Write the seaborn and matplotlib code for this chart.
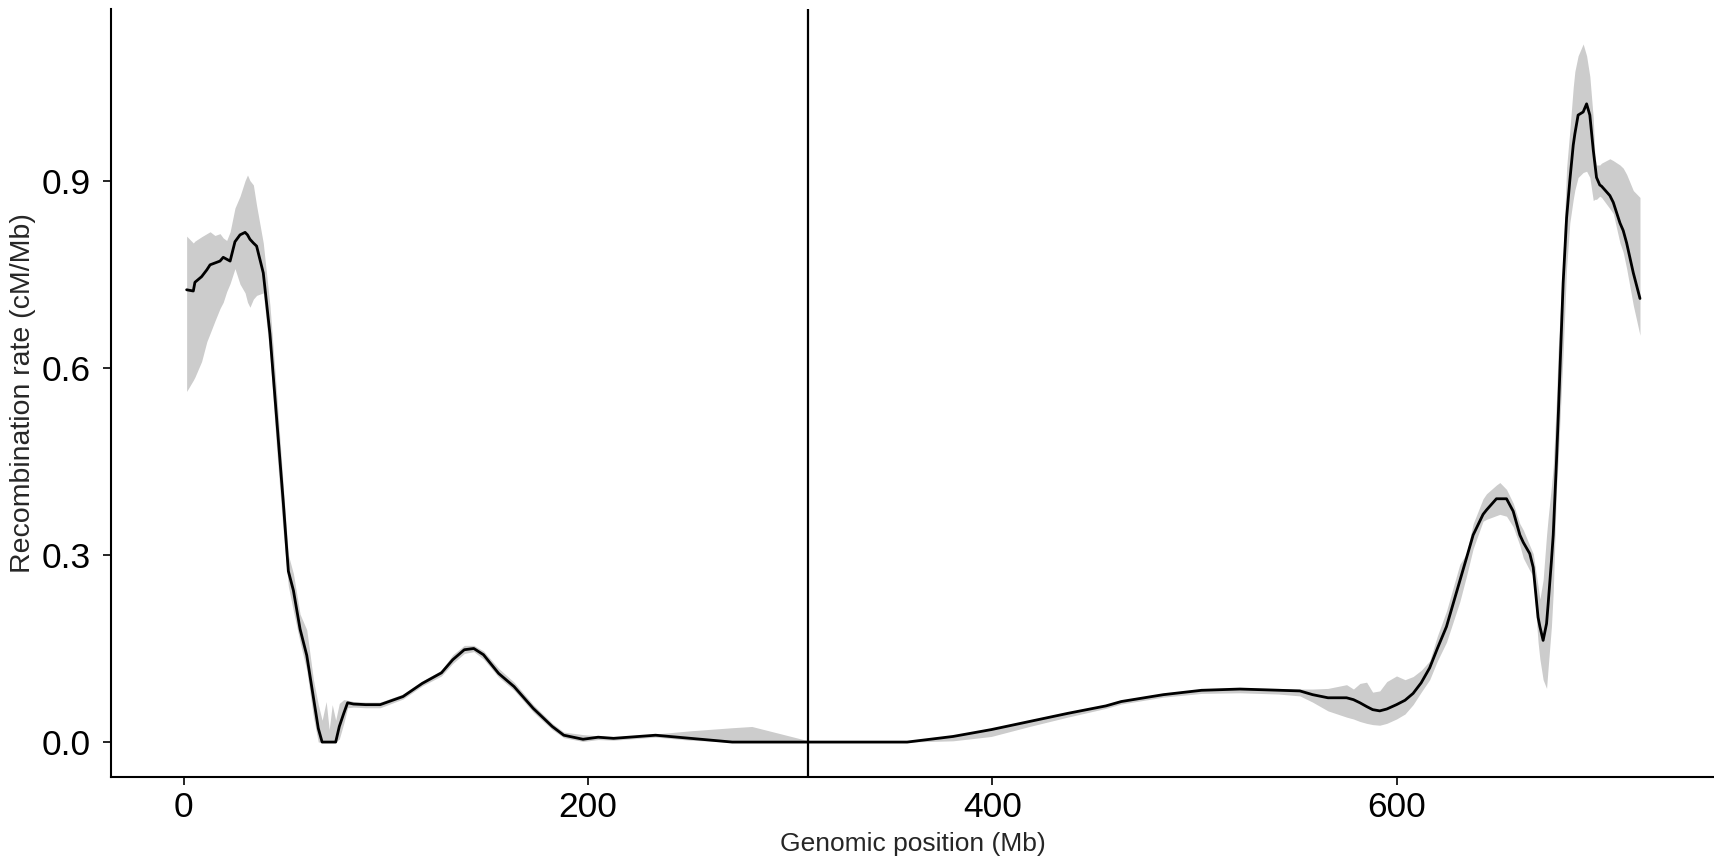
import numpy as np
import pandas as pd
import seaborn as sns
import matplotlib
matplotlib.use('Agg')
import matplotlib.pyplot as plt

# genomic position (Mb), smoothed rate and its band (cM/Mb)
pos = [1.5, 4.8, 5.6, 8.9, 11.5, 13.1, 15.5, 18.0, 19.6, 21.3, 23.0, 25.4, 27.9, 30.4, 31.6,
       32.8, 34.5, 36.1, 39.4, 42.7, 46.0, 49.3, 51.8, 54.3, 57.6, 60.9, 64.2, 66.6, 68.5,
       70.5, 72.0, 73.5, 75.2, 77.0, 79.2, 81.1, 84.0, 90.0, 97.2, 108.5, 118.0, 127.5,
       133.1, 138.8, 143.5, 148.3, 155.8, 163.4, 172.9, 182.3, 188.0, 197.5, 205.0, 212.6,
       233.4, 250.4, 271.3, 281.0, 309.0, 330.0, 357.8, 380.5, 399.4, 418.3, 437.2, 456.1,
       463.7, 484.5, 503.4, 522.4, 541.3, 552.0, 558.3, 565.9, 575.1, 578.5, 581.7, 585.0,
       588.0, 591.5, 595.0, 599.8, 604.0, 608.0, 612.0, 616.2, 620.0, 624.5, 631.1, 634.4,
       637.7, 642.6, 644.3, 649.2, 650.9, 654.2, 657.5, 660.8, 662.5, 665.7, 667.4, 669.8,
       670.7, 672.3, 674.0, 674.8, 676.4, 677.3, 678.9, 679.7, 682.2, 683.9, 685.5, 687.2,
       688.0, 689.6, 692.1, 693.8, 695.4, 697.1, 697.9, 698.7, 700.3, 701.2, 705.3, 707.0,
       710.3, 711.9, 713.6, 716.9, 720.2]
rate = [0.725, 0.723, 0.737, 0.746, 0.757, 0.765, 0.768, 0.771, 0.777, 0.774, 0.771, 0.802,
        0.813, 0.817, 0.813, 0.806, 0.800, 0.795, 0.752, 0.654, 0.520, 0.384, 0.274, 0.243,
        0.181, 0.139, 0.071, 0.022, 0.0, 0.0, 0.0, 0.0, 0.0, 0.025, 0.046, 0.063, 0.061,
        0.060, 0.060, 0.073, 0.094, 0.111, 0.132, 0.148, 0.150, 0.140, 0.110, 0.089, 0.054,
        0.025, 0.011, 0.0045, 0.0078, 0.006, 0.011, 0.006, 0.0, 0.0, 0.0, 0.0, 0.0, 0.009,
        0.020, 0.033, 0.046, 0.058, 0.065, 0.076, 0.083, 0.085, 0.083, 0.082, 0.076, 0.071,
        0.071, 0.068, 0.063, 0.057, 0.052, 0.050, 0.053, 0.060, 0.067, 0.078, 0.095, 0.119,
        0.150, 0.185, 0.258, 0.295, 0.332, 0.365, 0.372, 0.390, 0.390, 0.390, 0.370, 0.332,
        0.320, 0.302, 0.280, 0.200, 0.185, 0.163, 0.190, 0.222, 0.290, 0.332, 0.450, 0.515,
        0.736, 0.840, 0.900, 0.957, 0.975, 1.005, 1.010, 1.023, 1.005, 0.949, 0.927, 0.905,
        0.893, 0.891, 0.876, 0.865, 0.832, 0.820, 0.800, 0.752, 0.711]
lower = [0.562, 0.580, 0.585, 0.610, 0.642, 0.655, 0.675, 0.695, 0.705, 0.722, 0.735, 0.759,
         0.734, 0.720, 0.705, 0.697, 0.710, 0.716, 0.720, 0.620, 0.470, 0.335, 0.250, 0.210,
         0.160, 0.115, 0.040, 0.0, 0.0, 0.0, 0.0, 0.0, 0.0, 0.005, 0.030, 0.055, 0.056,
         0.055, 0.055, 0.069, 0.090, 0.106, 0.126, 0.142, 0.145, 0.133, 0.104, 0.083, 0.048,
         0.020, 0.007, 0.001, 0.004, 0.003, 0.008, 0.003, 0.0, 0.0, 0.0, 0.0, 0.0, 0.002,
         0.009, 0.025, 0.040, 0.054, 0.061, 0.072, 0.078, 0.079, 0.077, 0.074, 0.064, 0.050,
         0.040, 0.037, 0.033, 0.030, 0.028, 0.027, 0.030, 0.037, 0.045, 0.060, 0.080, 0.100,
         0.130, 0.160, 0.225, 0.266, 0.310, 0.354, 0.357, 0.363, 0.365, 0.362, 0.345, 0.315,
         0.295, 0.275, 0.266, 0.160, 0.133, 0.100, 0.086, 0.120, 0.185, 0.240, 0.405, 0.450,
         0.625, 0.760, 0.832, 0.870, 0.885, 0.905, 0.913, 0.915, 0.905, 0.868, 0.870, 0.870,
         0.875, 0.873, 0.855, 0.847, 0.800, 0.785, 0.759, 0.700, 0.652]
upper = [0.811, 0.800, 0.803, 0.810, 0.815, 0.818, 0.812, 0.815, 0.808, 0.804, 0.818, 0.856,
         0.875, 0.900, 0.909, 0.900, 0.893, 0.860, 0.800, 0.700, 0.560, 0.410, 0.300, 0.270,
         0.205, 0.180, 0.100, 0.060, 0.035, 0.065, 0.020, 0.060, 0.035, 0.062, 0.068, 0.067,
         0.065, 0.064, 0.064, 0.077, 0.098, 0.115, 0.140, 0.155, 0.155, 0.146, 0.118, 0.096,
         0.060, 0.030, 0.016, 0.012, 0.010, 0.008, 0.013, 0.018, 0.023, 0.025, 0.002, 0.001,
         0.001, 0.011, 0.022, 0.035, 0.048, 0.060, 0.067, 0.078, 0.085, 0.087, 0.086, 0.085,
         0.085, 0.086, 0.092, 0.085, 0.094, 0.096, 0.080, 0.082, 0.097, 0.106, 0.100, 0.105,
         0.115, 0.130, 0.170, 0.210, 0.285, 0.302, 0.350, 0.390, 0.398, 0.412, 0.416, 0.405,
         0.383, 0.350, 0.340, 0.315, 0.302, 0.250, 0.229, 0.260, 0.332, 0.360, 0.410, 0.441,
         0.550, 0.625, 0.780, 0.920, 0.980, 1.050, 1.075, 1.100, 1.119, 1.100, 1.067, 1.000,
         0.940, 0.925, 0.925, 0.928, 0.935, 0.932, 0.925, 0.920, 0.910, 0.884, 0.873]
centromere = 309

df = pd.DataFrame({'pos': pos, 'rate': rate, 'lower': lower, 'upper': upper})

sns.set_style('ticks')
plt.rcParams['font.family'] = ['Liberation Sans', 'DejaVu Sans']

fig = plt.figure(figsize=(17.14, 8.6), dpi=100)
ax = fig.add_axes([0.065, 0.0965, 0.935, 0.893])

ax.fill_between(df['pos'], df['lower'], df['upper'], color='#cccccc', linewidth=0)
sns.lineplot(data=df, x='pos', y='rate', color='black', linewidth=2.0, ax=ax)
ax.axvline(centromere, color='black', linewidth=1.6)

ax.set_xlim(-35.7, 756.8)
ax.set_ylim(-0.056, 1.175)
ax.set_xticks([0, 200, 400, 600])
ax.set_yticks([0.0, 0.3, 0.6, 0.9])
ax.set_yticklabels(['0.0', '0.3', '0.6', '0.9'])
ax.tick_params(labelsize=25.5, width=1.2, length=6, color='black', labelcolor='black')
ax.tick_params(axis='y', pad=9)
ax.tick_params(axis='x', pad=4)
ax.set_xlabel('Genomic position (Mb)', fontsize=19, labelpad=6)
ax.set_ylabel('Recombination rate (cM/Mb)', fontsize=20.5, labelpad=4)
sns.despine(ax=ax)
for s in ['left', 'bottom']:
    ax.spines[s].set_linewidth(1.5)
    ax.spines[s].set_color('black')

fig.savefig('out.png', dpi=100)
